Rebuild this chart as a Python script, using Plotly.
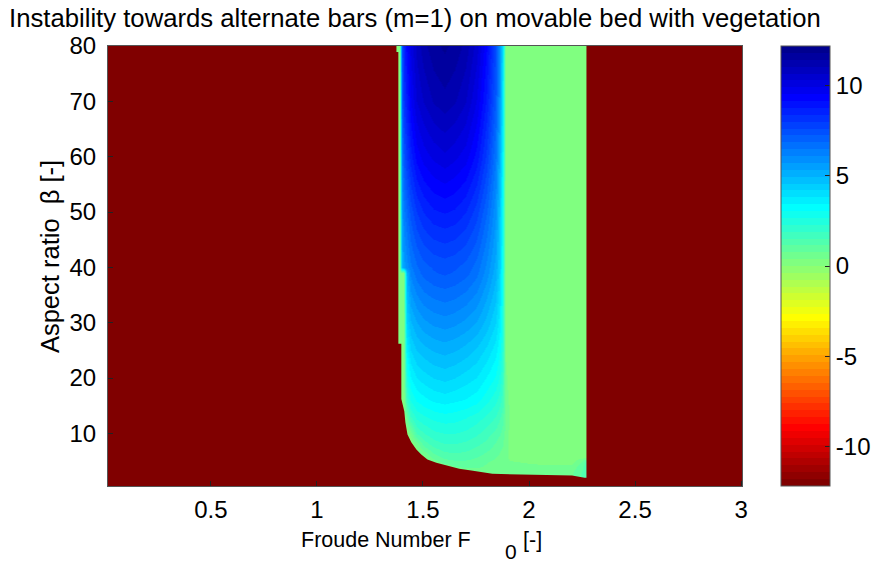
import numpy as np
import plotly.graph_objects as go

# ---------------- data ----------------
froude = [1.380, 1.390, 1.400, 1.410, 1.420, 1.440, 1.470, 1.500, 1.550, 1.600, 1.650, 1.700,
          1.750, 1.800, 1.840, 1.860, 1.875, 1.890, 1.910, 2.000, 2.100, 2.200, 2.250, 2.265]
beta = [2, 3, 4, 5, 6, 8, 10, 13, 16, 20, 25, 30, 39, 40, 50, 60, 70, 80]

growth_b2 = [0.1]*12 + [0.3, 0.5, 0.6, 0.7, 0.7, 0.7, 0.7, 0.7, 0.7, 0.7, 1.2, 1.4]
growth_b3 = [0.1]*12 + [0.3, 0.5, 0.6, 0.7, 0.7, 0.7, 0.7, 0.7, 0.7, 0.7, 1.2, 1.4]
growth_b4 = [0.1]*9 + [0.4, 0.7, 0.8, 0.8, 0.7, 0.6, 0.6, 0.6, 0.6, 0.6, 0.5, 0.5, 0.5, 1.1, 1.4]
growth_b5 = [0.1]*8 + [0.6, 1.0, 1.1, 1.1, 1.0, 0.8, 0.7, 0.6, 0.5, 0.5, 0.4, 0.3, 0.2, 0.2, 0.8, 1.2]
growth_b6 = [0.1]*7 + [0.3, 1.0, 1.3, 1.4, 1.35, 1.2, 1.0, 0.8, 0.7, 0.6, 0.5, 0.3, 0.2, 0.1, 0.1, 0.1, 0.1]
growth_b8 = [0.1]*6 + [0.5, 1.3, 1.7, 1.9, 1.9, 1.8, 1.6, 1.4, 1.1, 0.9, 0.8, 0.5, 0.3, 0.1, 0.1, 0.1, 0.1, 0.1]
growth_b10 = [0.1, 0.1, 0.1, 0.1, 0.1, 0.5, 1.6, 1.9, 2.2, 2.3, 2.3, 2.2, 2.0, 1.7, 1.4, 1.2, 1.0, 0.6, 0.3,
              0.1, 0.1, 0.1, 0.1, 0.1]
growth_b13 = [0.1, 0.1, 0.1, 0.1, 0.8, 1.9, 2.4, 2.6, 2.8, 2.9, 2.85, 2.7, 2.5, 2.2, 1.9, 1.6, 1.3, 0.7, 0.3,
              0.1, 0.1, 0.1, 0.1, 0.1]
growth_b16 = [0.1, 0.1, 0.1, 0.1, 1.8, 2.7, 3.1, 3.3, 3.5, 3.6, 3.5, 3.4, 3.2, 2.8, 2.4, 2.1, 1.7, 0.6, 0.3,
              0.1, 0.1, 0.1, 0.1, 0.1]
growth_b20 = [0.1, 0.1, 0.1, 0.1, 2.6, 3.4, 3.8, 4.0, 4.2, 4.3, 4.2, 4.0, 3.8, 3.4, 3.0, 2.6, 2.0, 0.5, 0.1,
              0.1, 0.1, 0.1, 0.1, 0.1]
growth_b25 = [0.1, 0.1, 0.1, 0.1, 3.5, 4.2, 4.6, 4.8, 5.0, 5.1, 5.0, 4.8, 4.5, 4.1, 3.6, 3.1, 2.3, 0.3, 0.1,
              0.1, 0.1, 0.1, 0.1, 0.1]
growth_b30 = [0.1, 0.1, 0.1, 0.1, 4.2, 4.9, 5.3, 5.6, 5.8, 5.9, 5.8, 5.6, 5.3, 4.8, 4.2, 3.6, 2.6, 0.1, 0.1,
              0.1, 0.1, 0.1, 0.1, 0.1]
growth_b39 = [0.1, 0.1, 0.1, 0.1, 5.0, 6.2, 6.7, 7.0, 7.2, 7.3, 7.2, 7.0, 6.6, 5.9, 5.1, 4.2, 2.8, 0.1, 0.1,
              0.1, 0.1, 0.1, 0.1, 0.1]
growth_b40 = [0.1, 0.1, 4.8, 5.5, 5.9, 6.4, 6.8, 7.1, 7.3, 7.4, 7.3, 7.1, 6.7, 6.0, 5.2, 4.3, 2.9, 0.1, 0.1,
              0.1, 0.1, 0.1, 0.1, 0.1]
growth_b50 = [0.1, 0.1, 5.3, 6.3, 6.8, 7.4, 8.0, 8.4, 8.7, 8.8, 8.7, 8.4, 7.8, 6.9, 5.8, 4.6, 3.0, 0.1, 0.1,
              0.1, 0.1, 0.1, 0.1, 0.1]
growth_b60 = [0.1, 0.1, 6.0, 7.2, 7.9, 8.6, 9.3, 9.7, 10.0, 10.2, 10.0, 9.7, 9.0, 7.9, 6.5, 5.1, 3.4, 0.1, 0.1,
              0.1, 0.1, 0.1, 0.1, 0.1]
growth_b70 = [0.1, 0.1, 6.7, 8.0, 8.7, 9.5, 10.3, 10.7, 11.1, 11.3, 11.1, 10.7, 9.9, 8.7, 7.2, 5.7, 3.7, 0.1, 0.1,
              0.1, 0.1, 0.1, 0.1, 0.1]
growth_b80 = [0.1, 0.1, 7.0, 8.4, 9.2, 10.0, 10.8, 11.3, 11.7, 11.9, 11.7, 11.3, 10.5, 9.2, 7.6, 6.0, 4.0, 0.1, 0.1,
              0.1, 0.1, 0.1, 0.1, 0.1]

# lower / left edge of the unstable region (below it: stable, dark red)
boundary_F = [1.370, 1.384, 1.384, 1.398, 1.398, 1.412, 1.417, 1.427, 1.445, 1.469, 1.492, 1.521, 1.563,
              1.610, 1.671, 1.728, 1.827, 2.203, 2.262, 2.285]
boundary_beta = [78.9, 78.9, 26.2, 26.2, 16.2, 14.0, 12.0, 9.8, 8.4, 7.1, 6.2, 5.3, 4.7,
                 4.2, 3.6, 3.3, 2.7, 2.4, 2.0, 2.0]

x_ticks = [0.5, 1, 1.5, 2, 2.5, 3]
x_ticklabels = ["0.5", "1", "1.5", "2", "2.5", "3"]
y_ticks = [10, 20, 30, 40, 50, 60, 70, 80]
cb_ticks = [-10, -5, 0, 5, 10]
cb_ticklabels = ["-10", "-5", "0", "5", "10"]

growth = [growth_b2, growth_b3, growth_b4, growth_b5, growth_b6, growth_b8, growth_b10, growth_b13,
          growth_b16, growth_b20, growth_b25, growth_b30, growth_b39, growth_b40, growth_b50,
          growth_b60, growth_b70, growth_b80]


# ---------------- MATLAB-style jet(64), reversed ----------------
def jet(m=64):
    n = int(np.ceil(m / 4))
    u = np.concatenate([np.arange(1, n + 1) / n, np.ones(n - 1), np.arange(n, 0, -1) / n])
    g = int(np.ceil(n / 2)) - (1 if m % 4 == 1 else 0) + np.arange(1, len(u) + 1)
    r = g + n
    b = g - n
    g = g[g <= m]
    r = r[r <= m]
    b = b[b >= 1]
    J = np.zeros((m, 3))
    J[r - 1, 0] = u[:len(r)]
    J[g - 1, 1] = u[:len(g)]
    J[b - 1, 2] = u[len(u) - len(b):]
    return J


J = jet(64)
colorscale = []
for k in range(64):
    c = J[63 - k]
    col = "rgb(%d,%d,%d)" % tuple(int(round(v * 255)) for v in c)
    colorscale.append([k / 64, col])
    colorscale.append([(k + 1) / 64, col])

DARK_RED = "rgb(128,0,0)"
FONT = "Liberation Sans, Arial, Helvetica, sans-serif"

# ---------------- layout geometry (pixels) ----------------
W, H = 876, 563
L, R, T, B = 108, 743, 46, 486          # axes box
PAPER_W = W - L                          # right margin 0; axes use a domain
ph = B - T


def px(xp):
    return (xp - L) / PAPER_W


def py(yp):
    return (B - yp) / ph


fig = go.Figure()

fig.add_trace(go.Heatmap(
    x=froude, y=beta, z=growth,
    zmin=-12.2, zmax=12.2, zsmooth="best",
    colorscale=colorscale, hoverinfo="skip",
    colorbar=dict(
        x=px(781), xanchor="left", xref="paper", xpad=0, ypad=0,
        y=0.5, yanchor="middle", len=1, lenmode="fraction",
        thickness=49, thicknessmode="pixels",
        outlinewidth=1, outlinecolor="#555555",
        tickmode="array", tickvals=cb_ticks, ticktext=cb_ticklabels,
        ticks="inside", ticklen=5, tickcolor="#222222",
        tickfont=dict(family=FONT, size=24, color="black"),
    ),
))

poly_x = boundary_F + [boundary_F[-1], boundary_F[0]]
poly_y = boundary_beta + [0, 0]
fig.add_trace(go.Scatter(
    x=poly_x, y=poly_y, fill="toself", fillcolor=DARK_RED, mode="lines",
    line=dict(width=0, color=DARK_RED), hoverinfo="skip", showlegend=False,
))

fig.update_layout(
    width=W, height=H, autosize=False,
    margin=dict(l=L, r=0, t=T, b=H - B, pad=0),
    paper_bgcolor="white", plot_bgcolor=DARK_RED,
    showlegend=False,
    font=dict(family=FONT, size=23, color="black"),
    xaxis=dict(domain=[0, px(R)], range=[0.015, 3.005], tickmode="array", tickvals=x_ticks,
               ticktext=x_ticklabels,
               showgrid=False, zeroline=False, showline=True, mirror=True, linecolor="#555555",
               linewidth=1, ticks="inside", ticklen=5, tickcolor="#222222",
               ticklabelstandoff=2, automargin=False,
               tickfont=dict(family=FONT, size=24, color="black")),
    yaxis=dict(range=[0.5, 80], tickmode="array", tickvals=y_ticks,
               showgrid=False, zeroline=False, showline=True, mirror=True, linecolor="#555555",
               linewidth=1, ticks="inside", ticklen=5, tickcolor="#222222",
               ticklabelstandoff=6, automargin=False,
               tickfont=dict(family=FONT, size=24, color="black")),
    annotations=[
        dict(text="Instability towards alternate bars (m=1) on movable bed with vegetation",
             xref="paper", yref="paper", x=px(415), y=py(18), xanchor="center", yanchor="middle",
             showarrow=False, font=dict(family=FONT, size=25.7, color="black")),
        dict(text="Froude Number F", xref="paper", yref="paper", x=px(473), y=py(540),
             xanchor="right", yanchor="middle", showarrow=False,
             font=dict(family=FONT, size=21.5, color="black")),
        dict(text="0", xref="paper", yref="paper", x=px(512), y=py(551),
             xanchor="center", yanchor="middle", showarrow=False,
             font=dict(family=FONT, size=21, color="black")),
        dict(text="[-]", xref="paper", yref="paper", x=px(522), y=py(540),
             xanchor="left", yanchor="middle", showarrow=False,
             font=dict(family=FONT, size=21.5, color="black")),
        dict(text="Aspect ratio  \u03b2 [-]", xref="paper", yref="paper", x=px(50), y=py(257),
             xanchor="center", yanchor="middle", textangle=-90, showarrow=False,
             font=dict(family=FONT, size=25.5, color="black")),
    ],
)

fig.write_html("out.html")
